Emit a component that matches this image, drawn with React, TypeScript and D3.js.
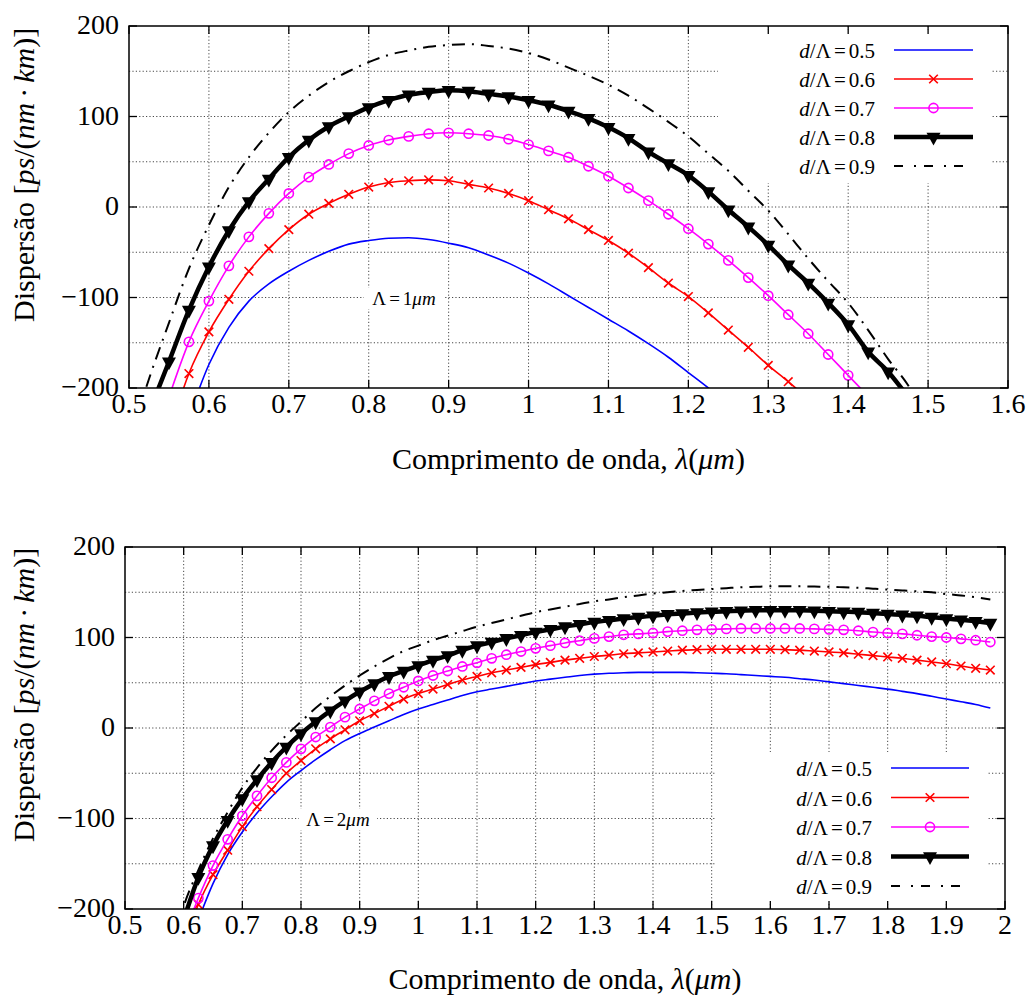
import React from "react";
import * as d3 from "d3";

const FONT = "'Liberation Serif', 'Times New Roman', 'Tinos', serif";

// ---------- data: upper panel (Λ = 1 µm) ----------
const topLambda = [0.5, 0.525, 0.55, 0.575, 0.6, 0.625, 0.65, 0.675, 0.7, 0.725, 0.75, 0.775, 0.8, 0.825, 0.85, 0.875, 0.9, 0.925, 0.95, 0.975, 1.0, 1.025, 1.05, 1.075, 1.1, 1.125, 1.15, 1.175, 1.2, 1.225, 1.25, 1.275, 1.3, 1.325, 1.35, 1.375, 1.4, 1.425, 1.45, 1.475, 1.5];
const topD05 = [null, null, null, -232, -174, -133, -104, -85, -71, -59, -49, -41, -37, -34.5, -34, -36, -40, -45, -53, -62, -73, -85, -98, -111, -124, -137, -151, -166, -183, -200, -218, null, null, null, null, null, null, null, null, null, null];
const topD06 = [null, null, -250, -184, -138, -102, -71, -46, -25, -8, 4, 14, 22, 27, 29, 30, 29, 25, 21, 15, 7, -3, -13, -25, -37, -51, -67, -84, -99, -117, -136, -155, -175, -193, -212, null, null, null, null, null, null];
const topD07 = [null, null, -210, -149, -104, -65, -33, -7, 15, 33, 47, 59, 68, 74, 78, 81, 82, 81, 79, 75, 69, 62, 55, 45, 34, 21, 7, -8, -24, -41, -59, -78, -98, -119, -140, -163, -186, -209, null, null, null];
const topD08 = [null, -227, -171, -114, -66, -26, 6, 31, 55, 74, 89, 100, 110, 118, 124, 127, 129, 128, 125, 122, 118, 113, 106, 98, 88, 76, 61, 48, 35, 17, -3, -22, -42, -64, -84, -106, -130, -160, -182, -210, null];
const topD09 = [-260, -190, -128, -68, -20, 22, 55, 82, 105, 123, 138, 150, 160, 168, 173, 177, 179, 180, 178, 175, 170, 163, 154, 145, 135, 123, 109, 94, 78, 59, 40, 18, -4, -30, -57, -82, -106, -136, -168, -197, -235];

// ---------- data: lower panel (Λ = 2 µm) ----------
const bottomLambda = [0.575, 0.6, 0.625, 0.65, 0.675, 0.7, 0.725, 0.75, 0.775, 0.8, 0.825, 0.85, 0.875, 0.9, 0.925, 0.95, 0.975, 1.0, 1.025, 1.05, 1.075, 1.1, 1.125, 1.15, 1.175, 1.2, 1.225, 1.25, 1.275, 1.3, 1.325, 1.35, 1.375, 1.4, 1.425, 1.45, 1.475, 1.5, 1.525, 1.55, 1.575, 1.6, 1.625, 1.65, 1.675, 1.7, 1.725, 1.75, 1.775, 1.8, 1.825, 1.85, 1.875, 1.9, 1.925, 1.95, 1.975];
const bottomD05 = [null, -255, -212, -172, -140, -115, -94, -76, -60, -47, -35, -24, -14, -6, 1, 8, 15, 21, 26, 31, 36, 40, 43, 46, 49, 52, 54, 56, 58, 59.5, 60.5, 61, 61.5, 61.5, 61.5, 61.5, 61, 60.5, 60, 59, 58, 57, 56, 54.5, 53, 51, 49, 47, 45, 43, 40.5, 38, 35, 32, 29, 26, 22];
const bottomD06 = [null, -240, -195, -162, -135, -109, -87, -68, -50, -36, -23, -12, -2, 8, 16, 24, 32, 38, 43, 48, 53, 57, 61, 64, 67, 70, 72.5, 75, 77, 79, 80.5, 82, 83, 84, 85, 86, 86.5, 87, 87, 87, 87, 87, 86.5, 86, 85, 84, 83, 81.5, 80, 78.5, 77, 75, 73, 71, 68.5, 66, 64];
const bottomD07 = [null, -230, -188, -152, -123, -97, -75, -55, -38, -23, -10, 1, 12, 21, 30, 38, 45, 52, 58, 63, 68, 72, 77, 81, 84.5, 88, 91, 94, 96.5, 99, 101, 103, 104, 105, 106.5, 107.5, 108.5, 109, 109.5, 110, 110, 110, 110, 110, 109.5, 109, 108.5, 107.5, 106, 105, 104, 102.5, 101, 100, 98.5, 97, 95];
const bottomD08 = [null, -212, -165, -130, -102, -78, -57, -38, -21, -6, 7, 19, 30, 40, 49, 57, 63, 69, 75, 80, 86, 91, 95, 99, 102.5, 106, 109, 112, 114.5, 117, 119, 121, 122.5, 124, 125.5, 126.5, 127.5, 128.5, 129, 129.5, 130, 130, 130, 130, 129.5, 129, 128.5, 128, 127, 126, 125, 124, 122.5, 121, 119.5, 118, 116];
const bottomD09 = [-255, -197, -157, -122, -93, -66, -44, -25, -8, 7, 22, 35, 47, 58, 68, 77, 85, 91, 97, 102, 107, 112, 116, 120, 124, 128, 131, 134, 137, 140, 142, 144.5, 146.5, 148.5, 150, 151.5, 152.5, 153.5, 154.5, 155.5, 156, 156.5, 156.5, 156.5, 156.3, 156, 155.5, 155, 154, 153, 152, 151, 150, 148, 146.5, 144.5, 142];

// ---------- labels / ticks ----------
const ratios = ["0.5", "0.6", "0.7", "0.8", "0.9"];
const topXTicks = [0.5, 0.6, 0.7, 0.8, 0.9, 1.0, 1.1, 1.2, 1.3, 1.4, 1.5, 1.6];
const bottomXTicks = [0.5, 0.6, 0.7, 0.8, 0.9, 1.0, 1.1, 1.2, 1.3, 1.4, 1.5, 1.6, 1.7, 1.8, 1.9, 2.0];
const yTicks = [-200, -100, 0, 100, 200];
const yGrid = [-150, -100, -50, 0, 50, 100, 150];

type Style = { color: string; width: number; marker: string | null; dash: string | null };
const STYLES: Style[] = [
  { color: "#0000ff", width: 1.6, marker: null, dash: null },
  { color: "#ff0000", width: 1.6, marker: "x", dash: null },
  { color: "#ff00ff", width: 1.6, marker: "o", dash: null },
  { color: "#000000", width: 4.5, marker: "v", dash: null },
  { color: "#000000", width: 2, marker: null, dash: "13,7,2,7" },
];

function Marker({ type, x, y, color }: { type: string; x: number; y: number; color: string }) {
  if (type === "x") {
    const h = 4.3;
    return (
      <g stroke={color} strokeWidth={1.6}>
        <line x1={x - h} y1={y - h} x2={x + h} y2={y + h} />
        <line x1={x - h} y1={y + h} x2={x + h} y2={y - h} />
      </g>
    );
  }
  if (type === "o") {
    return <circle cx={x} cy={y} r={4.6} fill="none" stroke={color} strokeWidth={1.6} />;
  }
  if (type === "v") {
    return <path d={`M${x - 7},${y - 4.3}L${x + 7},${y - 4.3}L${x},${y + 8.5}Z`} fill={color} />;
  }
  return null;
}

type PanelCfg = {
  id: string;
  xDomain: [number, number];
  xRange: [number, number];
  yRange: [number, number];
  lambda: number[];
  series: (number | null)[][];
  xTicks: number[];
  legend: { textX: number; x0: number; x1: number; rows: number[]; box: [number, number, number, number] };
  note: { value: string; x: number; y: number; box: [number, number, number, number] };
  ylabel: { x: number; y: number };
  xlabelY: number;
};

const fmt = d3.format("~g");

function Panel({ cfg }: { cfg: PanelCfg }) {
  const x = d3.scaleLinear().domain(cfg.xDomain).range(cfg.xRange);
  const y = d3.scaleLinear().domain([-200, 200]).range(cfg.yRange);
  const [L, R] = cfg.xRange;
  const [B, T] = cfg.yRange;
  const line = d3
    .line<[number, number]>()
    .x((d) => x(d[0]))
    .y((d) => y(d[1]))
    .curve(d3.curveMonotoneX);
  const pts = cfg.series.map((vals) =>
    cfg.lambda.map((l, i) => [l, vals[i]] as [number, number | null]).filter((p) => p[1] !== null) as [number, number][]
  );
  const tickLen = 8;
  const lg = cfg.legend;
  return (
    <g style={{ fontFamily: FONT }}>
      <defs>
        <clipPath id={cfg.id}>
          <rect x={L} y={T} width={R - L} height={B - T} />
        </clipPath>
      </defs>
      <g stroke="#333" strokeWidth={0.9} strokeDasharray="1.2,2.2">
        {cfg.xTicks.slice(1, -1).map((t) => (
          <line key={"gx" + t} x1={x(t)} x2={x(t)} y1={T} y2={B} />
        ))}
        {yGrid.map((t) => (
          <line key={"gy" + t} x1={L} x2={R} y1={y(t)} y2={y(t)} />
        ))}
      </g>
      <rect x={lg.box[0]} y={lg.box[1]} width={lg.box[2]} height={lg.box[3]} fill="#fff" />
      <rect x={cfg.note.box[0]} y={cfg.note.box[1]} width={cfg.note.box[2]} height={cfg.note.box[3]} fill="#fff" />
      <g clipPath={`url(#${cfg.id})`}>
        {pts.map((p, i) => {
          const s = STYLES[i];
          return (
            <g key={"s" + i}>
              <path d={line(p) || ""} fill="none" stroke={s.color} strokeWidth={s.width} strokeDasharray={s.dash || undefined} strokeLinejoin="round" />
              {s.marker && p.map((d, j) => <Marker key={j} type={s.marker as string} x={x(d[0])} y={y(d[1])} color={s.color} />)}
            </g>
          );
        })}
      </g>
      {ratios.map((r, i) => {
        const s = STYLES[i];
        const ry = lg.rows[i];
        return (
          <g key={"lg" + i}>
            <text x={lg.textX} y={ry + 8} textAnchor="end" style={{ fontSize: "21px", fontFamily: FONT }}>
              <tspan fontStyle="italic">d</tspan>/Λ<tspan dx={3}>=</tspan>
              <tspan dx={3}>{r}</tspan>
            </text>
            <line
              x1={lg.x0}
              x2={lg.x1}
              y1={ry}
              y2={ry}
              stroke={s.color}
              strokeWidth={s.width}
              strokeDasharray={s.dash ? "9,11,2,8" : undefined}
            />
            {s.marker && <Marker type={s.marker} x={(lg.x0 + lg.x1) / 2} y={ry} color={s.color} />}
          </g>
        );
      })}
      <text x={cfg.note.x} y={cfg.note.y} textAnchor="middle" style={{ fontSize: "19px", fontFamily: FONT }}>
        Λ<tspan dx={3}>=</tspan>
        <tspan dx={3}>{cfg.note.value}</tspan>
        <tspan fontStyle="italic">μm</tspan>
      </text>
      <rect x={L} y={T} width={R - L} height={B - T} fill="none" stroke="#000" strokeWidth={1.5} />
      <g stroke="#000" strokeWidth={1.3}>
        {cfg.xTicks.map((t) => (
          <g key={"tx" + t}>
            <line x1={x(t)} x2={x(t)} y1={B} y2={B - tickLen} />
            <line x1={x(t)} x2={x(t)} y1={T} y2={T + tickLen} />
          </g>
        ))}
        {yTicks.map((t) => (
          <g key={"ty" + t}>
            <line x1={L} x2={L + tickLen} y1={y(t)} y2={y(t)} />
            <line x1={R} x2={R - tickLen} y1={y(t)} y2={y(t)} />
          </g>
        ))}
      </g>
      <g style={{ fontSize: "28px", fontFamily: FONT }} fill="#000">
        {cfg.xTicks.map((t) => (
          <text key={"lx" + t} x={x(t)} y={B + 25} textAnchor="middle">
            {fmt(t)}
          </text>
        ))}
        {yTicks.map((t) => (
          <text key={"ly" + t} x={L - 10} y={y(t) + 8} textAnchor="end">
            {fmt(t)}
          </text>
        ))}
      </g>
      <text x={(L + R) / 2} y={cfg.xlabelY} textAnchor="middle" style={{ fontSize: "30px", fontFamily: FONT }}>
        Comprimento de onda, <tspan fontStyle="italic">λ</tspan>(<tspan fontStyle="italic">μm</tspan>)
      </text>
      <text transform={`translate(${cfg.ylabel.x},${cfg.ylabel.y}) rotate(-90)`} textAnchor="start" style={{ fontSize: "30px", fontFamily: FONT }}>
        Dispersão [<tspan fontStyle="italic">ps</tspan>/(<tspan fontStyle="italic">nm</tspan>
        <tspan dx={5}>·</tspan>
        <tspan dx={5} fontStyle="italic">km</tspan>)]
      </text>
    </g>
  );
}

const topCfg: PanelCfg = {
  id: "clipTop",
  xDomain: [0.5, 1.6],
  xRange: [129, 1008],
  yRange: [388, 26],
  lambda: topLambda,
  series: [topD05, topD06, topD07, topD08, topD09],
  xTicks: topXTicks,
  legend: { textX: 875, x0: 894, x1: 973, rows: [50, 79, 108, 137, 166], box: [718, 30, 274, 153] },
  note: { value: "1", x: 404, y: 305, box: [364, 288, 80, 21] },
  ylabel: { x: 34, y: 322 },
  xlabelY: 469,
};

const bottomCfg: PanelCfg = {
  id: "clipBottom",
  xDomain: [0.5, 2.0],
  xRange: [125, 1005],
  yRange: [909, 547],
  lambda: bottomLambda,
  series: [bottomD05, bottomD06, bottomD07, bottomD08, bottomD09],
  xTicks: bottomXTicks,
  legend: { textX: 872, x0: 891, x1: 969, rows: [768, 797.5, 827, 856.5, 886], box: [715, 752, 272, 152] },
  note: { value: "2", x: 338, y: 826, box: [299, 809, 78, 21] },
  ylabel: { x: 34, y: 842 },
  xlabelY: 989,
};

export default function App() {
  return (
    <svg
      width={1029}
      height={997}
      viewBox="0 0 1029 997"
      style={{ position: "absolute", left: 0, top: 0, background: "#fff" }}
    >
      <rect x={0} y={0} width={1029} height={997} fill="#fff" />
      <Panel cfg={topCfg} />
      <Panel cfg={bottomCfg} />
    </svg>
  );
}
